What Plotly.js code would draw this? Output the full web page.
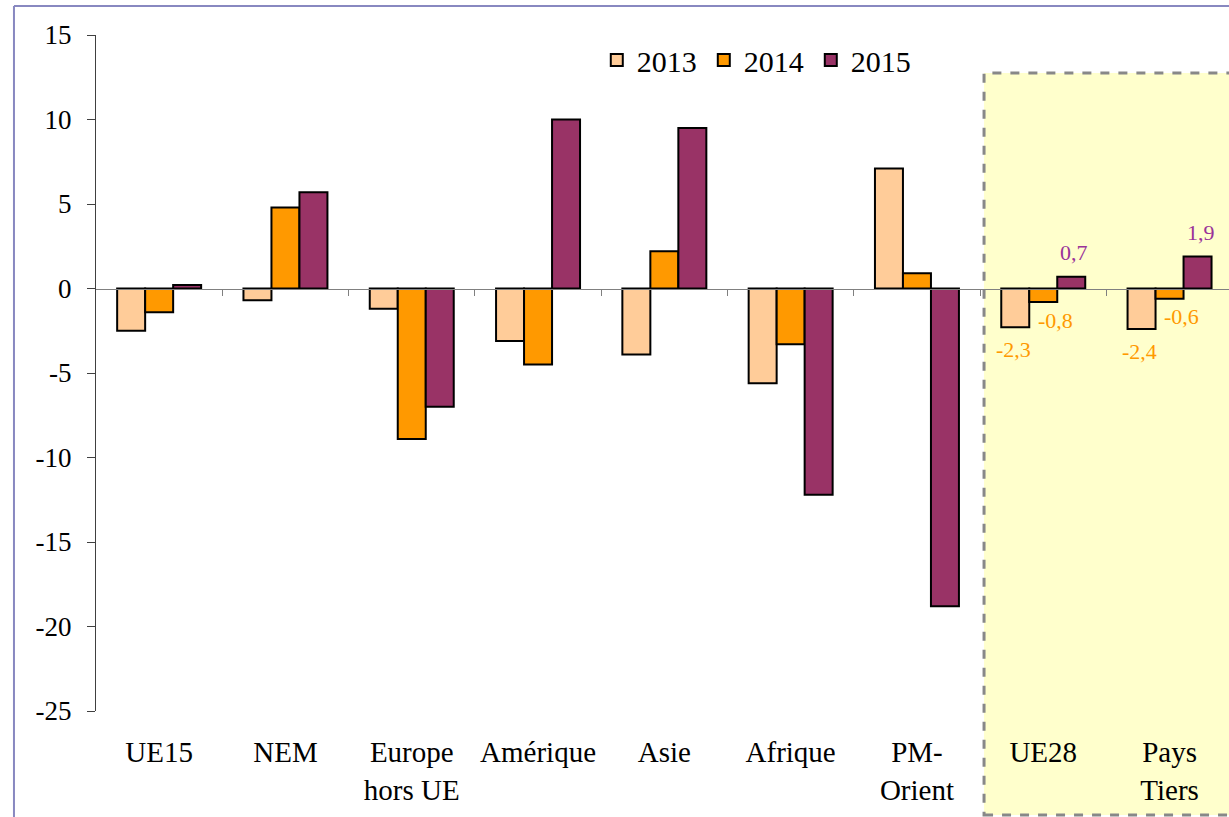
<!DOCTYPE html>
<html><head><meta charset="utf-8">
<script src="https://cdn.plot.ly/plotly-3.0.1.min.js"></script>
<style>html,body{margin:0;padding:0;background:#fff}#chart{width:1229px;height:817px}</style>
</head><body><div id="chart"></div><script>
const categories = ["UE15","NEM","Europe<br>hors UE","Amérique","Asie","Afrique","PM-<br>Orient","UE28","Pays<br>Tiers"];
const years = ["2013","2014","2015"];
const values2013 = [-2.5,-0.7,-1.2,-3.1,-3.9,-5.6,7.1,-2.3,-2.4];
const values2014 = [-1.4,4.8,-8.9,-4.5,2.2,-3.3,0.9,-0.8,-0.6];
const values2015 = [0.2,5.7,-7.0,10.0,9.5,-12.2,-18.8,0.7,1.9];
const yTickVals = [15,10,5,0,-5,-10,-15,-20,-25];
const yTickText = ["15","10","5","0","-5","-10","-15","-20","-25"];
const labelledCategories = [7,8];

const colors = ["#FFCC99","#FF9900","#993366"];
const labelColors = ["#FF9900","#FF9900","#993399"];
const series = [values2013, values2014, values2015];
const FONT = 'Liberation Serif, Times New Roman, serif';
const bargap = 0.335;
const barW = (1 - bargap) / 3;
const yRange = [-25, 15];
const xRange = [-0.5, -0.5 + 1133/126.3];

const traces = series.map((vals, i) => ({
  type: 'bar', name: years[i], x: categories, y: vals,
  marker: {color: colors[i], line: {color: '#000', width: 2}},
  hoverinfo: 'x+y'
}));
traces.push({type:'scatter', x:[], y:[], xaxis:'x2', yaxis:'y', showlegend:false, hoverinfo:'skip'});

const labelShift = [{dx:-2, dy:-22},{dx:12, dy:-18},{dx:3, dy:24}];
const annotations = [];
labelledCategories.forEach(ci => {
  series.forEach((vals, si) => {
    const v = vals[ci];
    annotations.push({
      xref:'x', yref:'y', x: ci + (si - 1) * barW, y: v,
      text: v.toFixed(1).replace('.', ','),
      showarrow:false, xshift: labelShift[si].dx, yshift: labelShift[si].dy,
      font:{family:FONT, size:22, color:labelColors[si]}
    });
  });
});

const boundaries = categories.slice(1).map((c, i) => i + 0.5);

const layout = {
  width:1229, height:817,
  margin:{l:96, r:0, t:35, b:106, pad:0},
  paper_bgcolor:'#ffffff', plot_bgcolor:'rgba(0,0,0,0)',
  font:{family:FONT, size:27, color:'#000'},
  barmode:'group', bargap:bargap, bargroupgap:0,
  showlegend:true,
  legend:{orientation:'h', x:0.442, y:0.963, xanchor:'left', yanchor:'middle',
    bgcolor:'rgba(0,0,0,0)', font:{family:FONT, size:30, color:'#000'}, entrywidth:62, entrywidthmode:'pixels',
    itemwidth:30, traceorder:'normal'},
  xaxis:{type:'category', range:xRange, showline:false, ticks:'', showgrid:false, zeroline:false,
    tickfont:{family:FONT, size:29, color:'#000'}, ticklabelstandoff:21, fixedrange:true},
  xaxis2:{overlaying:'x', anchor:'free', position:(0 - yRange[0])/(yRange[1]-yRange[0]),
    type:'linear', range:xRange, tickvals:boundaries, ticks:'outside', ticklen:6, tickwidth:1,
    tickcolor:'#808080', showline:true, linecolor:'#808080', linewidth:1, showticklabels:false,
    showgrid:false, zeroline:false, side:'bottom'},
  yaxis:{range:yRange, tickvals:yTickVals, ticktext:yTickText, showline:true, linecolor:'#404040',
    linewidth:1, ticks:'outside', ticklen:8, tickcolor:'#404040', showgrid:false, zeroline:false,
    tickfont:{family:FONT, size:27, color:'#000'}, ticklabelstandoff:10},
  shapes:[
    {type:'rect', xref:'paper', yref:'paper', x0:0.7838, x1:1.02, y0:-0.154, y1:0.9438,
     fillcolor:'#FFFFCC', line:{color:'#888888', width:3, dash:'dash'}, layer:'below'},
    {type:'line', xref:'paper', yref:'paper', x0:-0.0724, x1:1.05, y0:1.0429, y1:1.0429,
     line:{color:'#8888C0', width:2}},
    {type:'line', xref:'paper', yref:'paper', x0:-0.0724, x1:-0.0724, y0:1.0429, y1:-0.2,
     line:{color:'#8888C0', width:2}}
  ],
  annotations: annotations
};
Plotly.newPlot('chart', traces, layout, {displayModeBar:false, staticPlot:true});
</script></body></html>
